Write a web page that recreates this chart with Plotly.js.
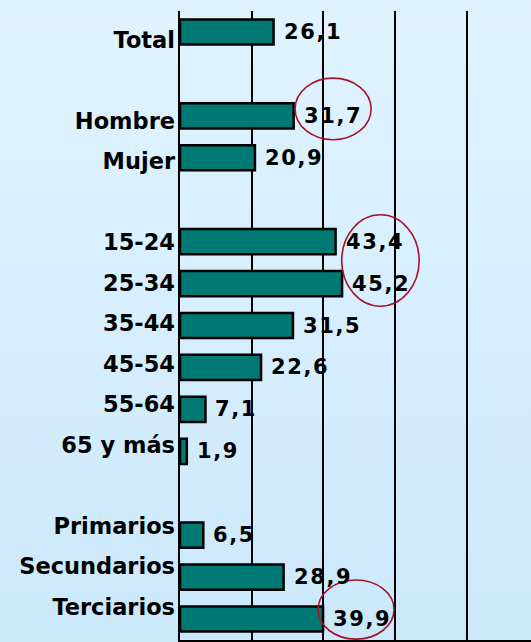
<!DOCTYPE html>
<html>
<head>
<meta charset="utf-8">
<script src="https://cdn.plot.ly/plotly-3.0.1.min.js"></script>
<style>
  html, body { margin: 0; padding: 0; width: 531px; height: 642px; overflow: hidden;
    background: linear-gradient(to bottom, #e0f3fe 0%, #d6eefd 50%, #cbe8fb 100%); }
  #chart { width: 531px; height: 642px; }
  .annotation-text { letter-spacing: 1.6px; }
</style>
</head>
<body>
<div id="chart"></div>
<script>
// Categories (blank strings are the empty spacer rows of the original)
const categories = ['Total', ' ', 'Hombre', 'Mujer', '  ', '15-24', '25-34', '35-44', '45-54', '55-64', '65 y más', '   ', 'Primarios', 'Secundarios', 'Terciarios'];
// Percentages
const values = [26.1, null, 31.7, 20.9, null, 43.4, 45.2, 31.5, 22.6, 7.1, 1.9, null, 6.5, 28.9, 39.9];

const fmt = v => v.toFixed(1).replace('.', ',');

const bar = {
  type: 'bar',
  orientation: 'h',
  y: categories,
  x: values,
  yaxis: 'y',
  width: 0.6,
  marker: { color: '#007873', line: { color: '#000000', width: 2.5 } },
  hoverinfo: 'skip'
};

// invisible helper trace so the label axis (y2) is drawn
const labelTrace = {
  type: 'scatter', mode: 'markers',
  x: values, y: categories.map((c, i) => i),
  yaxis: 'y2',
  marker: { opacity: 0, size: 1 },
  hoverinfo: 'skip', showlegend: false
};

const annotations = [];
categories.forEach((c, i) => {
  if (values[i] === null) return;
  annotations.push({
    x: values[i], y: c, xref: 'x', yref: 'y',
    text: fmt(values[i]), showarrow: false,
    xanchor: 'left', yanchor: 'middle', xshift: 8,
    font: { family: 'DejaVu Sans', size: 21, color: '#000000', weight: 'bold' }
  });
});

// Red ellipses around the highlighted labels
const ellipseStyle = { color: '#a8122f', width: 1.6 };
const shapes = [
  { type: 'circle', xref: 'x', yref: 'y', x0: 32.1, x1: 53.3, y0: 1.1, y1: 2.57, line: ellipseStyle },
  { type: 'circle', xref: 'x', yref: 'y', x0: 45.1, x1: 66.7, y0: 4.36, y1: 6.54, line: ellipseStyle },
  { type: 'circle', xref: 'x', yref: 'y', x0: 38.5, x1: 59.7, y0: 13.07, y1: 14.48, line: ellipseStyle }
];

const layout = {
  width: 531, height: 642,
  margin: { l: 180, r: 0, t: 11, b: 2 },
  paper_bgcolor: 'rgba(0,0,0,0)',
  plot_bgcolor: 'rgba(0,0,0,0)',
  showlegend: false,
  xaxis: {
    range: [0, 97.9], tick0: 0, dtick: 20, showticklabels: false,
    showgrid: true, gridcolor: '#000000', gridwidth: 2, zeroline: false,
    showline: true, linecolor: '#000000', linewidth: 3, ticks: '', fixedrange: true
  },
  yaxis: {
    type: 'category', categoryorder: 'array', categoryarray: categories,
    range: [14.5, -0.5], showticklabels: false, showgrid: false, zeroline: false,
    showline: true, linecolor: '#000000', linewidth: 2, ticks: '', fixedrange: true
  },
  yaxis2: {
    overlaying: 'y', anchor: 'x', side: 'left', type: 'linear',
    range: [14.815, -0.716], tickmode: 'array',
    tickvals: categories.map((c, i) => i),
    ticktext: categories.map(c => c.trim()),
    showgrid: false, zeroline: false, showline: false, ticks: '',
    ticklabelstandoff: 4,
    tickfont: { family: 'DejaVu Sans', size: 22.5, color: '#000000', weight: 'bold' },
    fixedrange: true
  },
  annotations: annotations,
  shapes: shapes
};

Plotly.newPlot('chart', [bar, labelTrace], layout, { displayModeBar: false, staticPlot: true });
</script>
</body>
</html>
